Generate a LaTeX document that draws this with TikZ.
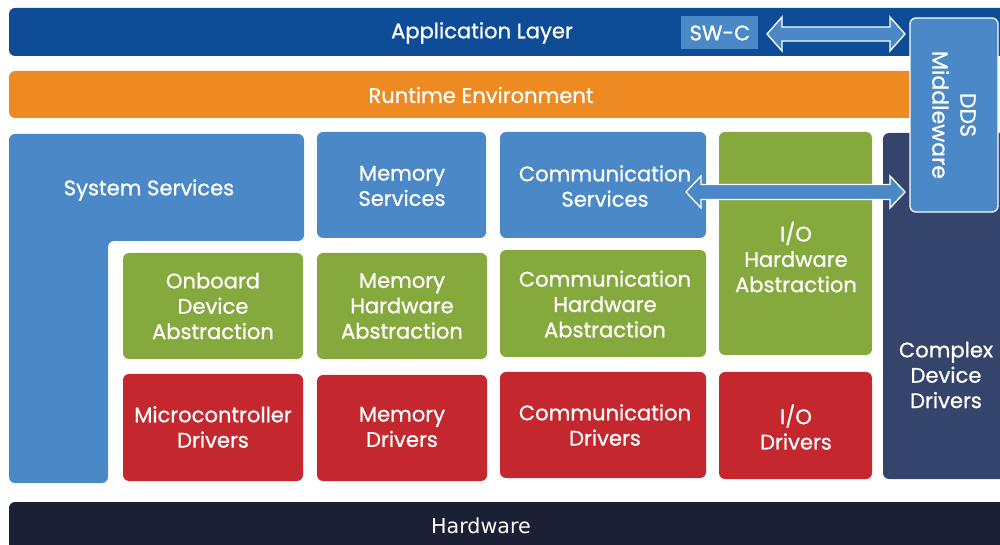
\documentclass[tikz,border=0pt]{standalone}
\usepackage{fontspec}
\setmainfont{Poppins}[FakeBold=0.8]
\newfontfamily\hwfont{DejaVu Sans}
\usetikzlibrary{calc}
\definecolor{appblue}{HTML}{0F4C97}
\definecolor{lblue}{HTML}{4A88C8}
\definecolor{rteorange}{HTML}{EE8A22}
\definecolor{hwgreen}{HTML}{86A93E}
\definecolor{drvred}{HTML}{C4282E}
\definecolor{cddnavy}{HTML}{35446B}
\definecolor{hwdark}{HTML}{1B2035}
\begin{document}
\begin{tikzpicture}[x=0.75pt,y=-0.75pt,
  box/.style={rounded corners=4.5pt},
  lbl/.style={text=white, align=center, inner sep=0pt, font=\fontsize{15.8}{19}\selectfont},
  dblarr/.style={fill=lblue, draw=white, line width=1pt, line join=miter}]
\useasboundingbox (0,0) rectangle (1000,545);
% Application layer
\fill[appblue, box] (9,8) rectangle (1020,56);
\node[lbl] (app) at (482,33) {Application Layer};
\fill[lblue] (681,16) rectangle (758,49);
\node[lbl] (swc) at (720,33) {SW-C};
% Runtime
\fill[rteorange, box] (9,71) rectangle (920,118);
\node[lbl] (rte) at (481,95) {Runtime Environment};
% System services L
\fill[lblue, rounded corners=4.5pt] (9,134) -- (304,134) -- (304,241) -- (108,241) -- (108,483) -- (9,483) -- cycle;
\node[lbl] (sys) at (149,190) {System Services};
% Services
\fill[lblue, box] (317,132) rectangle (486,238);
\node[lbl] (mems) at (402,186) {Memory\\Services};
\fill[lblue, box] (500,132) rectangle (706,238);
\node[lbl] (coms) at (605,186) {Communication\\Services};
% Abstraction
\fill[hwgreen, box] (123,253) rectangle (303,359);
\node[lbl] (oda) at (213,306) {Onboard\\Device\\Abstraction};
\fill[hwgreen, box] (317,253) rectangle (487,359);
\node[lbl] (mha) at (402,306) {Memory\\Hardware\\Abstraction};
\fill[hwgreen, box] (500,250) rectangle (706,357);
\node[lbl] (cha) at (605,304) {Communication\\Hardware\\Abstraction};
\fill[hwgreen, box] (719,132) rectangle (872,355);
\node[lbl] (ioha) at (796,257) {I/O\\Hardware\\Abstraction};
% Drivers
\fill[drvred, box] (123,374) rectangle (303,481);
\node[lbl] (mcd) at (213,427) {Microcontroller\\Drivers};
\fill[drvred, box] (317,375) rectangle (487,481);
\node[lbl] (memd) at (402,427) {Memory\\Drivers};
\fill[drvred, box] (500,372) rectangle (706,478);
\node[lbl] (comd) at (605,425) {Communication\\Drivers};
\fill[drvred, box] (719,372) rectangle (872,479);
\node[lbl] (iod) at (796,427) {I/O\\Drivers};
% Complex device drivers
\fill[cddnavy, box] (883,133) rectangle (1020,479);
\node[lbl] (cdd) at (946,375) {Complex\\Device\\Drivers};
% Hardware
\fill[hwdark, box] (9,502) rectangle (1020,560);
\node[lbl, font=\hwfont\fontsize{15.5}{19}\selectfont] (hw) at (481,526) {Hardware};
% Arrows
\coordinate (a1) at (767,34);
\coordinate (b1) at (905,34);
\draw[dblarr] (a1) -- ++(15,-17) -- ++(0,10) -- ($(b1)+(-15,-7)$) -- ++(0,-10) -- (b1) -- ++(-15,17) -- ++(0,-10) -- ($(a1)+(15,7)$) -- ++(0,10) -- cycle;
\coordinate (a2) at (686,192);
\coordinate (b2) at (905,192);
\draw[dblarr] (a2) -- ++(15,-16) -- ++(0,8.5) -- ($(b2)+(-15,-7.5)$) -- ++(0,-8.5) -- (b2) -- ++(-15,16) -- ++(0,-8.5) -- ($(a2)+(15,7.5)$) -- ++(0,8.5) -- cycle;
% DDS
\draw[fill=lblue, draw=white, line width=1pt, box] (910,18) rectangle (998,212);
\node[lbl, rotate=-90, font=\fontsize{16.5}{21}\selectfont] (dds) at (954,115) {DDS\\Middleware};
\end{tikzpicture}
\end{document}
